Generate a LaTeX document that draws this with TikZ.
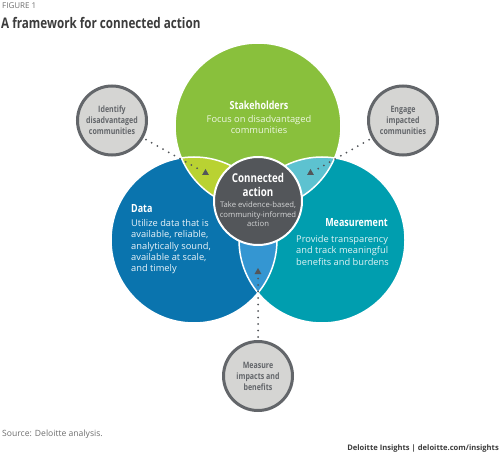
\documentclass[tikz,border=0pt]{standalone}
\usepackage{fontspec}
\setmainfont{Open Sans}
\newfontfamily\condfont{Open Sans}[FakeStretch=0.8]
\usetikzlibrary{shapes.geometric}
\definecolor{stakegreen}{HTML}{89C03C}
\definecolor{datablue}{HTML}{0A74AE}
\definecolor{measteal}{HTML}{009EAF}
\definecolor{lensyellow}{HTML}{B9D232}
\definecolor{lenscyan}{HTML}{5DC2D0}
\definecolor{lensblue}{HTML}{3496D2}
\definecolor{coregrey}{HTML}{53565A}
\definecolor{ringgrey}{HTML}{63666A}
\definecolor{ringfill}{HTML}{D5D5D3}
\definecolor{titlegrey}{HTML}{3C3C3C}
\definecolor{notegrey}{HTML}{6E6E6E}
\tikzset{
  venn/.style={circle, minimum size=166pt, inner sep=0pt},
  outerring/.style={circle, minimum size=69pt, inner sep=0pt, fill=ringfill, draw=ringgrey, line width=3pt,
    text=ringgrey, align=center, font=\condfont\bfseries\fontsize{8.8}{11}\selectfont},
  headtext/.style={inner sep=0pt, text=white, font=\condfont\bfseries\fontsize{11.2}{13}\selectfont},
  bodytext/.style={inner sep=0pt, font=\fontsize{9.3}{11.3}\selectfont},
  marker/.style={regular polygon, regular polygon sides=3, minimum size=8pt, inner sep=0pt, fill=coregrey},
  dots/.style={coregrey, line width=2pt, line cap=round, dash pattern=on 0pt off 6.5pt, shorten <=3pt, shorten >=2pt},
}
\begin{document}
\begin{tikzpicture}[x=1pt, y=-1pt]
  \useasboundingbox (0,0) rectangle (500,457);
  % title
  \node[anchor=west, inner sep=0pt, text=notegrey, font=\fontsize{8}{9}\selectfont] (fig) at (2,5.5) {FIGURE 1};
  \node[anchor=base west, inner sep=0pt, text=titlegrey, font=\condfont\bfseries\fontsize{14.6}{16}\selectfont] (title) at (1,28.5) {A framework for connected action};
  % the three circles
  \node[venn, fill=stakegreen] (stake) at (258,126) {};
  \node[venn, fill=datablue] (data) at (194,240) {};
  \node[venn, fill=measteal] (meas) at (322,240) {};
  \begin{scope}
    \clip (stake.center) circle[radius=83pt];
    \fill[lensyellow] (data.center) circle[radius=83pt];
    \fill[lenscyan] (meas.center) circle[radius=83pt];
  \end{scope}
  \begin{scope}
    \clip (data.center) circle[radius=83pt];
    \fill[lensblue] (meas.center) circle[radius=83pt];
  \end{scope}
  \foreach \c in {stake,data,meas}
    \draw[white, line width=1.5pt] (\c.center) circle[radius=83pt];
  % center
  \node[circle, minimum size=88pt, inner sep=0pt, fill=coregrey, draw=white, line width=2pt] (core) at (258,201) {};
  % texts
  \node[headtext] (stakehead) at (259,105) {Stakeholders};
  \node[bodytext, align=center, text=white!85!stakegreen] (stakebody) at (259,124.8) {Focus on disadvantaged\\communities};
  \node[headtext, anchor=west] (datahead) at (131,209) {Data};
  \node[bodytext, align=left, anchor=west, text=white!92!datablue] (databody) at (131,246.8) {Utilize data that is\\available, reliable,\\analytically sound,\\available at scale,\\and timely};
  \node[headtext, anchor=east] (meashead) at (388,223) {Measurement};
  \node[bodytext, align=left, anchor=east, text=white!88!measteal] (measbody) at (389,250.3) {Provide transparency\\and track meaningful\\benefits and burdens};
  \node[headtext, align=center, font=\condfont\bfseries\fontsize{12.2}{14}\selectfont] (corehead) at (258,185) {Connected\\action};
  \node[inner sep=0pt, align=center, text=white!75!coregrey, font=\fontsize{7.7}{9.5}\selectfont] (corebody) at (258,214.5) {Take evidence-based,\\community-informed\\action};
  % markers
  \node[marker] (mark1) at (205.5,173) {};
  \node[marker] (mark2) at (310.5,173) {};
  \node[marker] (mark3) at (258,272) {};
  % outer circles
  \node[outerring] (identify) at (112,120.5) {Identify\\disadvantaged\\communities};
  \node[outerring] (engage) at (403,120.5) {Engage\\impacted\\communities};
  \node[outerring] (impact) at (258,376) {Measure\\impacts and\\benefits};
  \draw[dots] (identify) -- (mark1);
  \draw[dots] (engage) -- (mark2);
  \draw[dots] (impact) -- (mark3);
  % notes
  \node[anchor=base west, inner sep=0pt, text=notegrey, font=\fontsize{8.6}{10}\selectfont] (source) at (2,436) {Source: Deloitte analysis.};
  \node[anchor=base east, inner sep=0pt, text=titlegrey, font=\bfseries\fontsize{7.6}{9}\selectfont] (credit) at (499,450) {Deloitte Insights | deloitte.com/insights};
\end{tikzpicture}
\end{document}
